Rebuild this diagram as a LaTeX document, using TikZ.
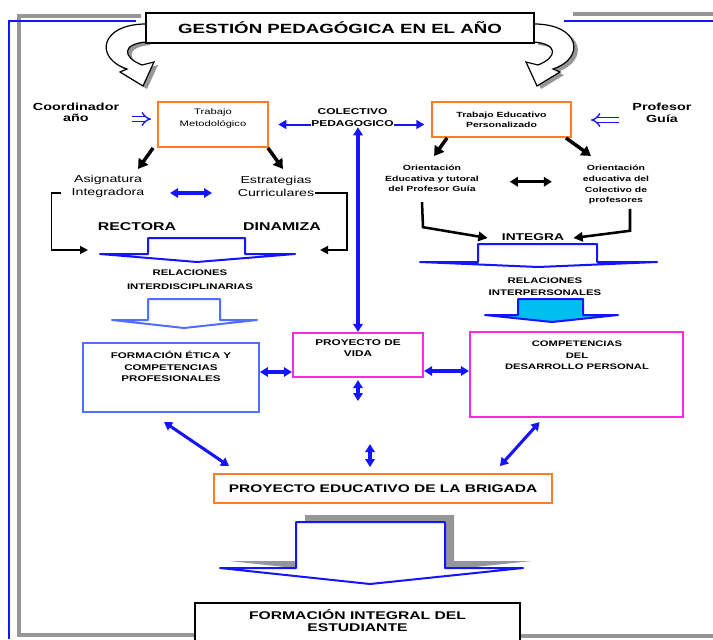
\documentclass[tikz,border=0pt]{standalone}
\usepackage{fontspec}
\setmainfont{Liberation Sans}[FakeStretch=1.4]
\usetikzlibrary{positioning,calc,arrows.meta}
\definecolor{gpOrange}{RGB}{255,125,40}
\definecolor{gpMagenta}{RGB}{255,40,230}
\definecolor{gpBlue}{RGB}{20,20,255}
\definecolor{gpLight}{RGB}{80,110,255}
\definecolor{gpCyan}{RGB}{0,190,240}
\definecolor{gpGray}{RGB}{150,150,150}
\tikzset{
  gp box/.style={rectangle, draw, fill=white, inner sep=0pt},
  gp orange/.style={gp box, draw=gpOrange, line width=1.4pt},
  gp magenta/.style={gp box, draw=gpMagenta, line width=1.6pt},
  gp text/.style={align=center, inner sep=0pt},
  gp link/.style={draw=gpBlue, line width=2.3pt, {Triangle[length=6pt,width=7pt]}-{Triangle[length=6pt,width=7pt]}},
  gp arrow/.style={draw=gpBlue, line width=1.5pt, -{Triangle[length=6pt,width=6.5pt]}},
  gp push/.style={line width=2.6pt, -{Triangle[length=7pt,width=8.5pt]}},
  gp pair/.style={line width=2.4pt, {Triangle[length=6pt,width=7pt]}-{Triangle[length=6pt,width=7pt]}},
  gp join/.style={line width=1.9pt, -{Triangle[length=7pt,width=7pt]}},
  gp elbow/.style={line width=1.3pt, -{Triangle[length=6pt,width=6pt]}},
  gp hollow/.style={draw=gpBlue, double=white, double distance=2.6pt, line width=1pt, -{Implies}},
  gp block/.style={draw=gpBlue, fill=white, line width=1.5pt, line join=round}
}

\begin{document}
\begin{tikzpicture}[x=0.75pt, y=-0.75pt]
    \useasboundingbox (0,0) rectangle (713,639);
    % marco
    \draw[gpGray, line width=2.4pt] (141,16) -- (19,16) -- (19,635) -- (195,635);
    \draw[gpGray, line width=2.4pt] (573,14) -- (713,14);
    \draw[gpGray, line width=2.4pt] (520,636) -- (713,636);
    \draw[gpBlue, line width=1.6pt] (136,21) -- (9,21) -- (9,639);
    \draw[gpBlue, line width=1.6pt] (564,21) -- (713,21);

    % flechas curvas
    \fill[gpGray, shift={(4,3)}] (146,24) .. controls (100,24) and (94,58) .. (127,69) -- (120,72) -- (143,86) -- (154,62) -- (142,65) .. controls (122,57) and (122,44) .. (146,42) -- cycle;
    \filldraw[fill=white, line width=0.9pt] (146,24) .. controls (100,24) and (94,58) .. (127,69) -- (120,72) -- (143,86) -- (154,62) -- (142,65) .. controls (122,57) and (122,44) .. (146,42) -- cycle;
    \fill[gpGray, shift={(4,3)}] (534,24) .. controls (580,24) and (586,58) .. (553,69) -- (560,72) -- (537,86) -- (526,62) -- (538,65) .. controls (558,57) and (558,44) .. (534,42) -- cycle;
    \filldraw[fill=white, line width=0.9pt] (534,24) .. controls (580,24) and (586,58) .. (553,69) -- (560,72) -- (537,86) -- (526,62) -- (538,65) .. controls (558,57) and (558,44) .. (534,42) -- cycle;

    \node[gp box, draw=black, line width=1.4pt, minimum width=291pt, minimum height=22.5pt, font=\bfseries\fontsize{10}{12}\selectfont] (titulo) at (340,28) {GESTIÓN PEDAGÓGICA EN EL AÑO};

    % fila superior
    \node[gp text, font=\bfseries\fontsize{7.7}{8.25}\selectfont] (coord) at (76,112) {Coordinador\\año};
    \node[gp orange, minimum width=82.5pt, minimum height=33.75pt] (metod) at (213,124.5) {};
    \node[gp text, font=\fontsize{6}{9}\selectfont] (metodtxt) at (213,118) {Trabajo\\Metodológico};
    \node[gp text, font=\bfseries\fontsize{6.4}{9}\selectfont] (colect) at (352.5,118) {COLECTIVO\\PEDAGOGICO};
    \node[gp orange, minimum width=104.25pt, minimum height=26.25pt, align=center, font=\bfseries\fontsize{5.6}{7.5}\selectfont] (pers) at (501.5,119.5) {Trabajo Educativo\\Personalizado};
    \node[gp text, font=\bfseries\fontsize{7.7}{9}\selectfont] (prof) at (662,113) {Profesor\\Guía};

    % lado izquierdo
    \node[gp text, font=\fontsize{7.6}{9.75}\selectfont] (asig) at (108,186.5) {Asignatura\\Integradora};
    \node[gp text, font=\fontsize{7.6}{9.75}\selectfont] (estr) at (276,186.5) {Estrategias\\Curriculares};
    \node[gp text, font=\bfseries\fontsize{8.5}{10}\selectfont] (rectora) at (137,227) {RECTORA};
    \node[gp text, font=\bfseries\fontsize{8.5}{10}\selectfont] (dinamiza) at (282,227) {DINAMIZA};
    \node[gp text, font=\bfseries\fontsize{6.1}{10.5}\selectfont] (relint) at (190,280) {RELACIONES\\INTERDISCIPLINARIAS};

    % lado derecho
    \node[gp text, font=\bfseries\fontsize{5.6}{8}\selectfont] (orprof) at (432,178.5) {Orientación\\Educativa y tutoral\\del Profesor Guía};
    \node[gp text, font=\bfseries\fontsize{5.6}{8}\selectfont] (orcol) at (616,185) {Orientación\\educativa del\\Colectivo de\\profesores};
    \node[gp text, font=\bfseries\fontsize{7.4}{9}\selectfont] (integra) at (533,237) {INTEGRA};
    \node[gp text, font=\bfseries\fontsize{6.1}{9}\selectfont] (relper) at (545,287) {RELACIONES\\INTERPERSONALES};

    % flechas de bloque
    \draw[gp block] (148,254) -- (148,238) -- (245,238) -- (245,254) -- (295,254) -- (197,262) -- (100,254) -- cycle;
    \draw[gp block, draw=gpLight] (148,320) -- (148,299) -- (220,299) -- (220,320) -- (257,320) -- (184,328) -- (112,320) -- cycle;
    \draw[gp block] (478,262) -- (478,244) -- (597,244) -- (597,262) -- (657,262) -- (538,267) -- (420,262) -- cycle;
    \draw[gp block, fill=gpCyan] (518,315) -- (518,299) -- (583,299) -- (583,315) -- (618,315) -- (552,322) -- (485,315) -- cycle;
    \fill[gpGray, shift={(9,-7)}] (296,568) -- (296,522) -- (445,522) -- (445,568) -- (523,568) -- (370,584) -- (220,568) -- cycle;
    \draw[gp block] (296,568) -- (296,522) -- (445,522) -- (445,568) -- (523,568) -- (370,584) -- (220,568) -- cycle;

    % cajas centrales
    \node[gp box, draw=gpLight, line width=1.4pt, minimum width=132pt, minimum height=51.75pt] (etica) at (171,377.5) {};
    \node[gp text, font=\bfseries\fontsize{6.2}{8.6}\selectfont] (eticatxt) at (171,366.5) {FORMACIÓN ÉTICA Y\\COMPETENCIAS\\PROFESIONALES};
    \node[gp magenta, minimum width=97.5pt, minimum height=33pt] (vida) at (358,355) {};
    \node[gp text, font=\bfseries\fontsize{6.3}{8.25}\selectfont] (vidatxt) at (358,348.5) {PROYECTO DE\\VIDA};
    \node[gp magenta, minimum width=159.75pt, minimum height=63.75pt] (compet) at (576.5,374.5) {};
    \node[gp text, font=\bfseries\fontsize{6}{8.6}\selectfont] (compettxt) at (577,355.5) {COMPETENCIAS\\DEL\\DESARROLLO PERSONAL};
    \node[gp orange, minimum width=253.5pt, minimum height=21.75pt, font=\bfseries\fontsize{8.3}{10}\selectfont] (brigada) at (383,488.5) {PROYECTO EDUCATIVO DE LA BRIGADA};
    \node[gp box, draw=black, line width=1.5pt, minimum width=243.75pt, minimum height=37.5pt] (integral) at (357.5,628) {};
    \node[gp text, font=\bfseries\fontsize{8.4}{9}\selectfont] (integraltxt) at (357.5,621) {FORMACIÓN INTEGRAL DEL\\ESTUDIANTE};

    % conectores
    \draw[gp hollow] ($(metod.west)+(-25,-5.5)$) -- ++(19,0);
    \draw[gp hollow] ($(pers.east)+(47,0.5)$) -- ++(-28,0);
    \draw[gp arrow, shorten >=7pt] (colect.west |- metod.east) -- (metod.east);
    \draw[gp arrow, shorten >=5pt] (colect.east |- metod.east) -- (pers.west |- metod.east);
    \draw[gp link, line width=2.6pt] (vida.north |- colect.south) -- (vida.north);

    \draw[gp push] ($(metod.south west)+(-4,0)$) -- ++(-15,21);
    \draw[gp push] ($(metod.south east)+(-1,0)$) -- ++(15,21);
    \draw[gp link] ($(asig.east)!0.5!(estr.west)+(-21,6.5)$) -- ++(42,0);
    \draw[gp elbow] ($(asig.west)+(-10,6.5)$) -- ++(-10,0) |- (88,250);
    \draw[gp elbow] ($(estr.east)+(0,6.5)$) -| (347,250) -- (320,250);

    \draw[gp push] ($(pers.south west)+(16,0)$) -- ++(-13,18);
    \draw[gp push] ($(pers.south east)+(-6,0)$) -- ++(25,18);
    \draw[gp pair] ($(orprof.east)!0.5!(orcol.west)+(-21,0)$) -- ++(42,0);
    \draw[gp join] ($(orprof.south)+(-10,10)$) -- ++(1,25) -- ($(integra.west)+(-14,1)$);
    \draw[gp join] ($(orcol.south)+(14,4)$) -- ++(0,22) -- ($(integra.east)+(9,1)$);

    \draw[gp link] ($(etica.east)+(0,-5.5)$) -- ($(vida.west)+(0,17)$);
    \draw[gp link] ($(vida.east)+(0,16)$) -- ($(compet.west)+(0,-3.5)$);
    \draw[gp link, shorten <=1.5pt] (vida.south) -- ++(0,23);
    \draw[gp link] ($(brigada.north)+(-13,-6)$) -- ++(0,-23);
    \draw[gp link] ($(etica.south)+(-7,9)$) -- ($(brigada.north west)+(16,-7)$);
    \draw[gp link] ($(compet.south)+(-37,4)$) -- ($(brigada.north east)+(-53,-7)$);
\end{tikzpicture}
\end{document}
